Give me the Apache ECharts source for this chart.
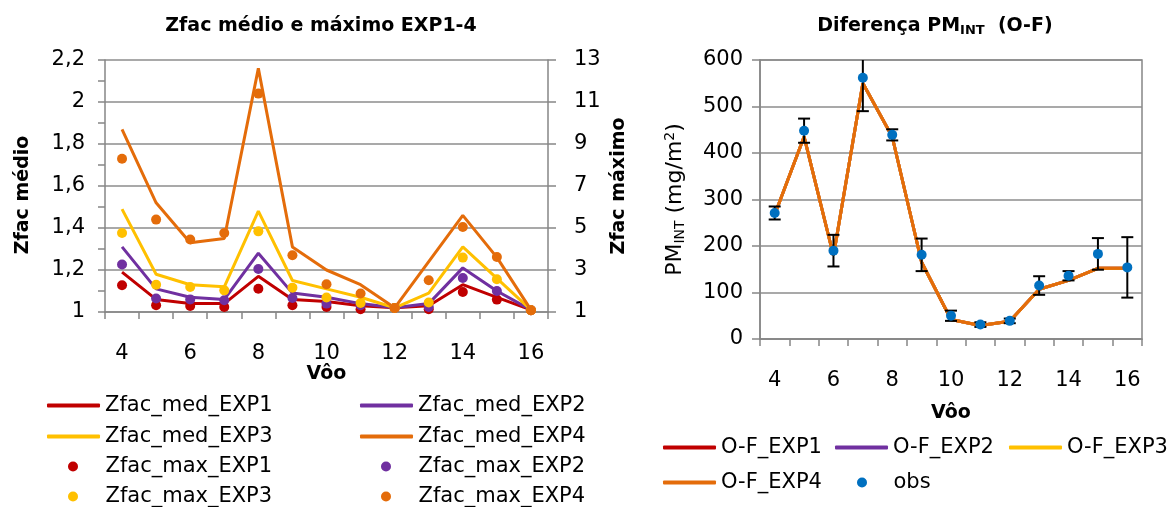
<!DOCTYPE html>
<html>
<head>
<meta charset="utf-8">
<script src="https://cdn.jsdelivr.net/npm/echarts@6/dist/echarts.min.js"></script>
<style>html,body{margin:0;padding:0;background:#fff}#c{width:1174px;height:507px}</style>
</head>
<body>
<div id="c"></div>
<script>
// ---------- data ----------
const flights = ['4','5','6','7','8','9','10','11','12','13','14','15','16'];

const zfacMedEXP1 = [1.19,1.06,1.04,1.04,1.17,1.06,1.05,1.03,1.02,1.03,1.13,1.07,1.01];
const zfacMedEXP2 = [1.31,1.11,1.07,1.06,1.28,1.09,1.07,1.04,1.02,1.04,1.21,1.10,1.01];
const zfacMedEXP3 = [1.49,1.18,1.13,1.12,1.48,1.15,1.11,1.07,1.02,1.09,1.31,1.16,1.01];
const zfacMedEXP4 = [1.87,1.52,1.33,1.35,2.16,1.31,1.20,1.13,1.02,1.24,1.46,1.26,1.01];

const zfacMaxEXP1 = [2.27,1.32,1.29,1.24,2.11,1.32,1.24,1.13,1.19,1.13,1.95,1.59,1.08];
const zfacMaxEXP2 = [3.26,1.64,1.60,1.56,3.05,1.67,1.40,1.32,1.19,1.24,2.62,2.00,1.08];
const zfacMaxEXP3 = [4.76,2.30,2.19,2.03,4.84,2.16,1.69,1.43,1.19,1.45,3.59,2.56,1.08];
const zfacMaxEXP4 = [8.30,5.40,4.45,4.76,11.4,3.70,2.32,1.88,1.19,2.51,5.05,3.62,1.08];

const ofEXP1 = [267,435,179,550,435,165,42,29,38,107,126,152,152];
const ofEXP2 = [267,435,179,550,435,165,42,29,38,107,126,152,152];
const ofEXP3 = [267,435,179,550,435,165,42,29,38,107,126,152,152];
const ofEXP4 = [267,435,179,550,435,165,42,29,38,107,126,152,152];
const obsPM  = [271,448,190,562,439,181,50,31,39,115,136,183,154];
const obsErr = [14,26,34,72,12,35,11,5,5,20,10,34,65];

const medNames = ['Zfac_med_EXP1','Zfac_med_EXP2','Zfac_med_EXP3','Zfac_med_EXP4'];
const maxNames = ['Zfac_max_EXP1','Zfac_max_EXP2','Zfac_max_EXP3','Zfac_max_EXP4'];
const ofNames  = ['O-F_EXP1','O-F_EXP2','O-F_EXP3','O-F_EXP4'];
const obsName  = 'obs';

const leftTitle = 'Zfac médio e máximo EXP1-4';
const rightTitle = 'Diferença PM{sub|INT}  (O-F)';
const xName = 'Vôo';
const yLeftName = 'Zfac médio';
const yRightName = 'Zfac máximo';
const yPMName = 'PM{sub|INT} (mg/m{sup|2})';

// ---------- styling ----------
const FONT = 'DejaVu Sans';
const colors = ['#C00000','#7030A0','#FFC000','#E46C0A'];
const obsColor = '#0070C0';
const axisGray = '#868686';
const gridGray = '#8c8c8c';
const fmtComma = v => String(+v.toFixed(2)).replace('.', ',');

const meds = [zfacMedEXP1, zfacMedEXP2, zfacMedEXP3, zfacMedEXP4];
const maxs = [zfacMaxEXP1, zfacMaxEXP2, zfacMaxEXP3, zfacMaxEXP4];
const ofs  = [ofEXP1, ofEXP2, ofEXP3, ofEXP4];

const tickLabel = {fontFamily: FONT, fontSize: 21, color: '#000'};
const nameBold = {fontFamily: FONT, fontSize: 19, fontWeight: 'bold', color: '#000'};

function catAxis(gridIndex, margin, nameGap) {
  return {
    type: 'category', gridIndex, data: flights, boundaryGap: true,
    name: xName, nameLocation: 'middle', nameGap, nameTextStyle: nameBold,
    axisLine: {show: true, lineStyle: {color: axisGray, width: 1.5}},
    axisTick: {show: true, interval: 0, length: 7, lineStyle: {color: axisGray, width: 1.5}},
    axisLabel: Object.assign({interval: 1, margin}, tickLabel),
    splitLine: {show: false}
  };
}

// legends: one component per item for exact placement
const legends = [];
function addLegend(name, left, cy, kind, dotShift, textPad) {
  const isDot = kind === 'dot';
  legends.push({
    data: [name], left: isDot ? left + dotShift : left, top: cy - 11, padding: 0, selectedMode: false,
    icon: isDot ? 'circle' : 'roundRect',
    itemWidth: 53, itemHeight: isDot ? 10 : 4,
    textStyle: {fontFamily: FONT, fontSize: 21, color: '#000', padding: [0, 0, 0, isDot ? textPad : 0]}
  });
}
const leftCols = [47, 360], leftRows = [406, 437, 467, 497];
addLegend(medNames[0], leftCols[0], leftRows[0], 'line');
addLegend(medNames[1], leftCols[1], leftRows[0], 'line');
addLegend(medNames[2], leftCols[0], leftRows[1], 'line');
addLegend(medNames[3], leftCols[1], leftRows[1], 'line');
addLegend(maxNames[0], leftCols[0], leftRows[2], 'dot', 21, 1);
addLegend(maxNames[1], leftCols[1], leftRows[2], 'dot', 21, 1);
addLegend(maxNames[2], leftCols[0], leftRows[3], 'dot', 21, 1);
addLegend(maxNames[3], leftCols[1], leftRows[3], 'dot', 21, 1);
addLegend(ofNames[0], 663, 448, 'line');
addLegend(ofNames[1], 835, 448, 'line');
addLegend(ofNames[2], 1009, 448, 'line');
addLegend(ofNames[3], 663, 483, 'line');
addLegend(obsName, 835, 483, 'dot', 22, 0);

const series = [];
meds.forEach((d, i) => series.push({
  name: medNames[i], type: 'line', xAxisIndex: 0, yAxisIndex: 0, data: d,
  symbol: 'none', lineStyle: {color: colors[i], width: 3}, itemStyle: {color: colors[i]}, z: 2
}));
maxs.forEach((d, i) => series.push({
  name: maxNames[i], type: 'scatter', xAxisIndex: 0, yAxisIndex: 1, data: d,
  symbol: 'circle', symbolSize: 10, itemStyle: {color: colors[i], opacity: 1}, z: 3
}));
ofs.forEach((d, i) => series.push({
  name: ofNames[i], type: 'line', xAxisIndex: 1, yAxisIndex: 2, data: d,
  symbol: 'none', lineStyle: {color: colors[i], width: 3}, itemStyle: {color: colors[i]}, z: 2
}));
series.push({
  name: 'obs_err', type: 'custom', xAxisIndex: 1, yAxisIndex: 2, z: 3,
  data: flights.map((f, i) => [i, obsPM[i] - obsErr[i], obsPM[i] + obsErr[i]]),
  encode: {x: 0, y: [1, 2]},
  renderItem(params, api) {
    const cs = params.coordSys;
    const lo = api.coord([api.value(0), api.value(1)]);
    const hi = api.coord([api.value(0), api.value(2)]);
    const x = lo[0], half = 6;
    const topY = Math.max(hi[1], cs.y);
    const st = {stroke: '#000', lineWidth: 2};
    const ch = [
      {type: 'line', shape: {x1: x, y1: lo[1], x2: x, y2: topY}, style: st},
      {type: 'line', shape: {x1: x - half, y1: lo[1], x2: x + half, y2: lo[1]}, style: st}
    ];
    if (hi[1] >= cs.y) ch.push({type: 'line', shape: {x1: x - half, y1: hi[1], x2: x + half, y2: hi[1]}, style: st});
    return {type: 'group', children: ch};
  }
});
series.push({
  name: obsName, type: 'scatter', xAxisIndex: 1, yAxisIndex: 2, data: obsPM,
  symbol: 'circle', symbolSize: 10, itemStyle: {color: obsColor, opacity: 1}, z: 4
});

const option = {
  animation: false,
  textStyle: {fontFamily: FONT},
  grid: [
    {left: 105, top: 60, width: 443, height: 252, containLabel: false},
    {left: 760, top: 60, width: 382, height: 279, containLabel: false, show: true, borderColor: axisGray, borderWidth: 1.5}
  ],
  legend: legends,
  xAxis: [catAxis(0, 31, 47), catAxis(1, 31, 65)],
  yAxis: [
    {
      type: 'value', gridIndex: 0, min: 1, max: 2.2, interval: 0.2, position: 'left',
      name: yLeftName, nameLocation: 'middle', nameGap: 72, nameTextStyle: Object.assign({padding: [0, 18, 0, 0]}, nameBold),
      axisLine: {show: true, lineStyle: {color: axisGray, width: 1.5}},
      axisTick: {show: true, length: 7, lineStyle: {color: axisGray, width: 1.5}},
      minorTick: {show: true, splitNumber: 2, length: 7, lineStyle: {color: axisGray, width: 1.5}},
      axisLabel: Object.assign({margin: 20, formatter: fmtComma}, tickLabel),
      splitLine: {show: true, lineStyle: {color: gridGray, width: 1.5}}
    },
    {
      type: 'value', gridIndex: 0, min: 1, max: 13, interval: 2, position: 'right',
      name: yRightName, nameLocation: 'middle', nameGap: 62, nameTextStyle: nameBold,
      axisLine: {show: true, lineStyle: {color: axisGray, width: 1.5}},
      axisTick: {show: true, length: 8, lineStyle: {color: axisGray, width: 1.5}},
      axisLabel: Object.assign({margin: 26}, tickLabel),
      splitLine: {show: false}
    },
    {
      type: 'value', gridIndex: 1, min: 0, max: 600, interval: 100, position: 'left',
      name: yPMName, nameLocation: 'middle', nameGap: 73,
      nameTextStyle: {
        fontFamily: FONT, fontSize: 22, color: '#000',
        rich: {
          sub: {fontFamily: FONT, fontSize: 14, color: '#000', padding: [10, 0, 0, 0]},
          sup: {fontFamily: FONT, fontSize: 14, color: '#000', padding: [0, 0, 10, 0]}
        }
      },
      axisLine: {show: true, lineStyle: {color: axisGray, width: 1.5}},
      axisTick: {show: true, length: 8, lineStyle: {color: axisGray, width: 1.5}},
      axisLabel: Object.assign({margin: 17}, tickLabel),
      splitLine: {show: true, lineStyle: {color: gridGray, width: 1.5}}
    }
  ],
  graphic: [
    {type: 'text', x: 321, y: 26, style: {text: leftTitle, align: 'center', verticalAlign: 'middle',
      font: 'bold 19px "DejaVu Sans"', fill: '#000'}},
    {type: 'text', x: 935, y: 26, style: {text: rightTitle, align: 'center', verticalAlign: 'middle',
      font: 'bold 19px "DejaVu Sans"', fill: '#000',
      rich: {sub: {font: 'bold 13px "DejaVu Sans"', fill: '#000', padding: [10, 0, 0, 0]}}}}
  ],
  series
};

const chart = echarts.init(document.getElementById('c'), null, {renderer: 'canvas'});
chart.setOption(option);
</script>
</body>
</html>
